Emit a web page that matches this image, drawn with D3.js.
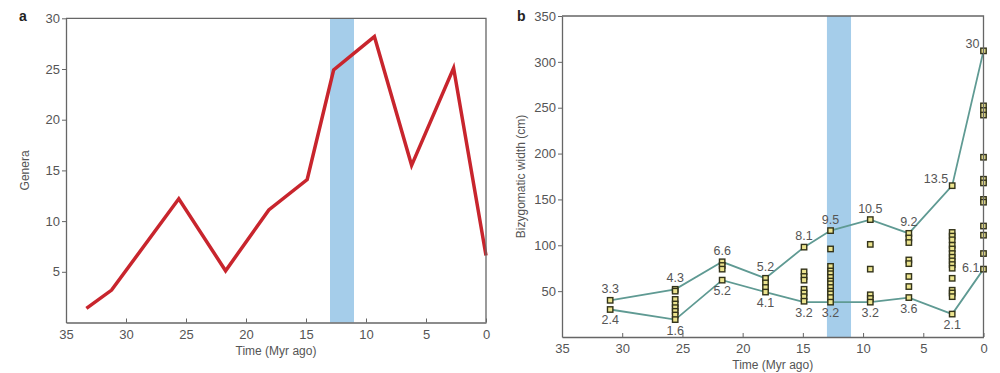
<!DOCTYPE html>
<html>
<head>
<meta charset="utf-8">
<script src="https://cdn.jsdelivr.net/npm/d3@7"></script>
<style>
  body { margin: 0; background: #fff; }
  svg { display: block; font-family: "Liberation Sans", Arial, sans-serif; }
  .tick text { fill: #555; font-size: 13px; }
  .tick line, .domain { stroke: #666; }
</style>
</head>
<body>
<svg id="chart" width="1000" height="373"></svg>
<script>
// panel a: number of genera through time
const timesA = [33.3, 31.2, 25.6, 21.7, 18.1, 14.9, 12.7, 9.3, 6.2, 2.7, 0];
const generaA = [1.4, 3.2, 12.2, 5.1, 11.1, 14.1, 24.9, 28.2, 15.5, 25.1, 6.6];
const yTicksA = [5, 10, 15, 20, 25, 30];

// panel b: bizygomatic width per time bin
const timesB = [31, 25.6, 21.7, 18.1, 14.9, 12.7, 9.4, 6.2, 2.6, 0];
const upperB = [40, 52, 82, 64, 98, 116, 128, 113, 165, 312];
const lowerB = [30, 19, 62, 49, 38, 38, 38, 43, 25, 74];
const upperLabels = ["3.3", "4.3", "6.6", "5.2", "8.1", "9.5", "10.5", "9.2", "13.5", "30"];
const lowerLabels = ["2.4", "1.6", "5.2", "4.1", "3.2", "3.2", "3.2", "3.6", "2.1", "6.1"];
const specimensB = [
    [40, 30],
    [52, 50, 41, 36, 32, 28, 24, 19],
    [82, 78, 74, 62],
    [64, 59, 54, 49],
    [98, 71, 66, 62, 52, 48, 44, 39],
    [116, 96, 77, 72, 69, 65, 61, 58, 54, 50, 47, 43, 38],
    [128, 101, 74, 46, 42, 38],
    [113, 108, 103, 84, 80, 66, 55, 43],
    [165, 114, 110, 106, 100, 96, 91, 87, 83, 79, 75, 64, 51, 48, 44, 25],
    [312, 252, 247, 242, 196, 172, 168, 150, 147, 121, 111, 91, 74]
];
const yTicksB = [50, 100, 150, 200, 250, 300, 350];

const xTicks = [35, 30, 25, 20, 15, 10, 5, 0];
const band = [13, 11];

const svg = d3.select("#chart");

function frame(g, x, y, yTicks, xLabel, yLabel, letter, lx, ly, xlabY) {
    const [x0, x1] = x.range();
    const [y0, y1] = y.range();

    // top and right border
    g.append("path")
        .attr("d", "M" + x0 + "," + y1 + "H" + x1 + "V" + y0)
        .attr("fill", "none")
        .attr("stroke", "#666")
        .attr("stroke-width", 1.3);

    g.append("g")
        .attr("transform", "translate(0," + y0 + ")")
        .call(d3.axisBottom(x).tickValues(xTicks).tickSize(-4).tickSizeOuter(0).tickPadding(7))
        .call(a => a.select(".domain").attr("stroke-width", 1.3));

    g.append("g")
        .attr("transform", "translate(" + x0 + ",0)")
        .call(d3.axisLeft(y).tickValues(yTicks).tickSize(4).tickSizeOuter(0).tickPadding(2))
        .call(a => a.select(".domain").attr("stroke-width", 1.3));

    g.append("text")
        .attr("x", (x0 + x1) / 2)
        .attr("y", xlabY)
        .attr("text-anchor", "middle")
        .attr("fill", "#555")
        .attr("font-size", 12)
        .text(xLabel);

    g.append("text")
        .attr("transform", "translate(" + lx + "," + ((y0 + y1) / 2) + ") rotate(-90)")
        .attr("text-anchor", "middle")
        .attr("fill", "#555")
        .attr("font-size", 12)
        .text(yLabel);

    g.append("text")
        .attr("x", letter[1])
        .attr("y", ly)
        .attr("font-weight", "bold")
        .attr("font-size", 14)
        .attr("fill", "#222")
        .text(letter[0]);
}

// ---- panel a ----
const ga = svg.append("g");
const xa = d3.scaleLinear().domain([35, 0]).range([66, 486]);
const ya = d3.scaleLinear().domain([0, 30]).range([322.5, 18.3]);

ga.append("rect")
    .attr("x", xa(band[0]))
    .attr("y", ya(30))
    .attr("width", xa(band[1]) - xa(band[0]))
    .attr("height", ya(0) - ya(30))
    .attr("fill", "#a5cdea");

ga.append("path")
    .datum(timesA.map((t, i) => [t, generaA[i]]))
    .attr("fill", "none")
    .attr("stroke", "#c8252d")
    .attr("stroke-width", 3.5)
    .attr("stroke-linejoin", "miter")
    .attr("d", d3.line().x(d => xa(d[0])).y(d => ya(d[1])));

frame(ga, xa, ya, yTicksA, "Time (Myr ago)", "Genera", ["a", 19], 29, 21, 355);

// ---- panel b ----
const gb = svg.append("g");
const xb = d3.scaleLinear().domain([35, 0]).range([562, 983.5]);
const yb = d3.scaleLinear().domain([0, 350]).range([337, 16]);

gb.append("rect")
    .attr("x", xb(band[0]))
    .attr("y", yb(350))
    .attr("width", xb(band[1]) - xb(band[0]))
    .attr("height", yb(0) - yb(350))
    .attr("fill", "#a5cdea");

const lineB = d3.line().x(d => xb(d[0])).y(d => yb(d[1]));
[upperB, lowerB].forEach(vals => {
    gb.append("path")
        .datum(timesB.map((t, i) => [t, vals[i]]))
        .attr("fill", "none")
        .attr("stroke", "#5f9a93")
        .attr("stroke-width", 1.8)
        .attr("d", lineB);
});

const pts = [];
specimensB.forEach((col, i) => col.forEach(v => pts.push([timesB[i], v])));

gb.selectAll(".sq")
    .data(pts)
    .enter().append("rect")
    .attr("class", "sq")
    .attr("x", d => xb(d[0]) - 2.7)
    .attr("y", d => yb(d[1]) - 2.7)
    .attr("width", 5.4)
    .attr("height", 5.4)
    .attr("fill", "#ece48e")
    .attr("stroke", "#33331a")
    .attr("stroke-width", 1.4);

// labels: last two upper and last lower sit to the left of their point
gb.selectAll(".ul")
    .data(upperLabels)
    .enter().append("text")
    .attr("class", "ul")
    .attr("x", (d, i) => i >= 8 ? xb(timesB[i]) - 4 : xb(timesB[i]))
    .attr("y", (d, i) => i >= 8 ? yb(upperB[i]) - 3 : yb(upperB[i]) - 7)
    .attr("text-anchor", (d, i) => i >= 8 ? "end" : "middle")
    .attr("fill", "#555")
    .attr("font-size", 12.5)
    .text(d => d);

gb.selectAll(".ll")
    .data(lowerLabels)
    .enter().append("text")
    .attr("class", "ll")
    .attr("x", (d, i) => i === 9 ? xb(timesB[i]) - 4 : xb(timesB[i]))
    .attr("y", (d, i) => i === 9 ? yb(lowerB[i]) + 3 : yb(lowerB[i]) + 15)
    .attr("text-anchor", (d, i) => i === 9 ? "end" : "middle")
    .attr("fill", "#555")
    .attr("font-size", 12.5)
    .text(d => d);

frame(gb, xb, yb, yTicksB, "Time (Myr ago)", "Bizygomatic width (cm)", ["b", 517], 525, 21, 369);
</script>
</body>
</html>
